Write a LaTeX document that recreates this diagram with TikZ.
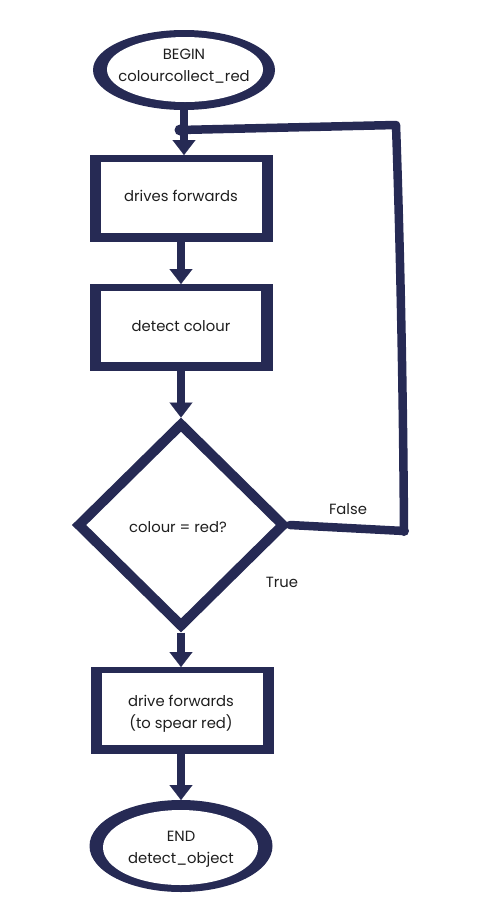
\documentclass[tikz,border=0pt]{standalone}
\usepackage{fontspec}
\setmainfont{Poppins}
\usetikzlibrary{shapes.geometric,arrows.meta}
\definecolor{navy}{RGB}{38,42,84}
\definecolor{txt}{RGB}{30,30,30}
\tikzset{
  outerbox/.style={rectangle, fill=navy, inner sep=0pt, outer sep=0pt},
  innerbox/.style={rectangle, fill=white, inner sep=0pt, outer sep=0pt},
  outerell/.style={ellipse, fill=navy, inner sep=0pt, outer sep=0pt},
  innerell/.style={ellipse, fill=white, inner sep=0pt, outer sep=0pt},
  label/.style={text=txt, font=\fontsize{14.8}{21.5}\selectfont, align=center, inner sep=0pt},
  flow/.style={draw=navy, line width=8pt, -{Triangle[width=23pt,length=15pt,line width=0.1pt]}},
  loopline/.style={draw=navy, line width=8.5pt, line cap=round, line join=round},
}
\begin{document}
\begin{tikzpicture}[x=1pt,y=-1pt]
\useasboundingbox (0,0) rectangle (484,924);
% start terminal
\node[outerell, minimum width=182pt, minimum height=80pt] (e1) at (184,70) {};
\node[innerell, minimum width=156pt, minimum height=65pt] (e1i) at (185,69.5) {};
\node[label] (e1t) at (184,66) {BEGIN\\colourcollect\_red};
% drives forwards
\node[outerbox, minimum width=183pt, minimum height=87pt] (r1) at (181,198.5) {};
\node[innerbox, minimum width=161pt, minimum height=71pt] (r1i) at (181,197.5) {};
\node[label] (r1t) at (181,196) {drives forwards};
% detect colour
\node[outerbox, minimum width=183pt, minimum height=87pt] (r2) at (181,327.5) {};
\node[innerbox, minimum width=160pt, minimum height=71pt] (r2i) at (181,326.5) {};
\node[label] (r2t) at (181,326) {detect colour};
% decision
\node[diamond, draw=navy, line width=10pt, line join=miter, minimum width=208pt, minimum height=205pt, inner sep=0pt, fill=white] (d) at (181,525) {};
\node[label] (dt) at (178,527) {colour = red?};
\node[label] (fl) at (348,509) {False};
\node[label] (tl) at (282,582) {True};
% drive forwards to spear red
\node[outerbox, minimum width=183pt, minimum height=87pt] (r3) at (182,710.5) {};
\node[innerbox, minimum width=161pt, minimum height=72pt] (r3i) at (182,709) {};
\node[label] (r3t) at (181,714) {drive forwards\\(to spear red)};
% end terminal
\node[outerell, minimum width=183pt, minimum height=92pt] (e2) at (181,846) {};
\node[innerell, minimum width=155pt, minimum height=75pt] (e2i) at (180.5,847.5) {};
\node[label] (e2t) at (181,849) {END\\detect\_object};
% coordinates of the loop
\coordinate (fc) at (404,531);
\coordinate (tc) at (396,125);
\coordinate (jn) at (180,130);
% connectors
\draw[flow] (e1.south) -- (e1.south |- r1.north);
\draw[flow] (r1.south) -- (r2.north);
\draw[flow] (r2.south) -- (d.north);
\draw[flow] (d.south) -- (d.south |- r3.north);
\draw[flow] (d.south |- r3.south) -- (e2.north);
\draw[loopline] (d.east) -- (fc) .. controls (403,380) and (400,240) .. (tc) -- (jn);
\fill[navy] (jn) circle (5.5pt);
\fill[navy] (fc) circle (5pt);
\end{tikzpicture}
\end{document}
